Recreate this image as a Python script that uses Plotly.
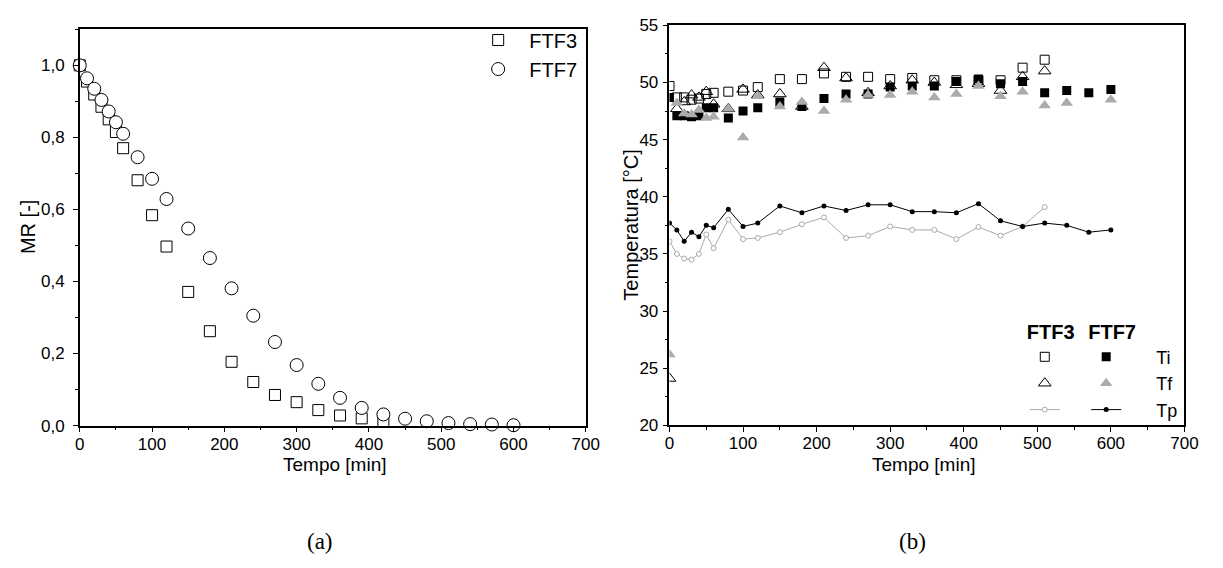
import plotly.graph_objects as go

# ---------------- data: panel (a) ----------------
t_mr3 = [0, 10, 20, 30, 40, 50, 60, 80, 100, 120, 150, 180, 210, 240, 270, 300, 330, 360, 390, 420]
mr3 = [1.0, 0.955, 0.919, 0.885, 0.85, 0.815, 0.77, 0.681, 0.584, 0.497, 0.371, 0.262, 0.177, 0.121,
       0.085, 0.065, 0.043, 0.028, 0.02, 0.012]
t_mr7 = [0, 10, 20, 30, 40, 50, 60, 80, 100, 120, 150, 180, 210, 240, 270, 300, 330, 360, 390, 420,
         450, 480, 510, 540, 570, 600]
mr7 = [1.0, 0.964, 0.935, 0.904, 0.872, 0.842, 0.81, 0.745, 0.685, 0.629, 0.547, 0.465, 0.381, 0.305,
       0.232, 0.168, 0.116, 0.077, 0.049, 0.031, 0.019, 0.012, 0.007, 0.004, 0.003, 0.001]

# ---------------- data: panel (b) ----------------
t_3 = [0, 10, 20, 30, 40, 50, 60, 80, 100, 120, 150, 180, 210, 240, 270, 300, 330, 360, 390, 420,
       450, 480, 510]
ti3 = [49.7, 48.7, 48.7, 48.5, 48.6, 49.0, 49.1, 49.2, 49.3, 49.6, 50.3, 50.3, 50.8, 50.5, 50.5, 50.3,
       50.4, 50.2, 50.2, 50.2, 50.2, 51.3, 52.0]
tf3 = [24.1, 47.7, 48.3, 48.9, 48.7, 49.2, 48.1, 47.7, 49.4, 48.9, 49.0, 47.9, 51.3, 50.4, 49.1, 49.7,
       50.2, 50.0, 49.8, 49.9, 49.3, 50.5, 51.0]
tp3 = [36.1, 35.0, 34.6, 34.5, 35.0, 36.7, 35.5, 38.0, 36.3, 36.4, 36.9, 37.6, 38.2, 36.4, 36.6, 37.4,
       37.1, 37.1, 36.3, 37.35, 36.6, 37.4, 39.1]

t_7 = [0, 10, 20, 30, 40, 50, 60, 80, 100, 120, 150, 180, 210, 240, 270, 300, 330, 360, 390, 420,
       450, 480, 510, 540, 570, 600]
ti7 = [48.7, 47.1, 47.1, 47.0, 47.1, 47.8, 47.8, 46.9, 47.5, 47.8, 48.3, 47.9, 48.6, 49.0, 49.0, 49.6,
       49.7, 49.7, 50.1, 50.3, 49.9, 50.1, 49.1, 49.3, 49.1, 49.4]
tp7 = [37.7, 37.1, 36.1, 36.9, 36.5, 37.5, 37.3, 38.9, 37.4, 37.7, 39.2, 38.6, 39.2, 38.8, 39.3, 39.3,
       38.7, 38.7, 38.6, 39.4, 37.9, 37.4, 37.7, 37.5, 36.9, 37.1]
t_tf7 = [0, 10, 20, 30, 40, 50, 60, 80, 100, 120, 150, 180, 210, 240, 270, 300, 330, 360, 390, 420,
         450, 480, 510, 540, 600]
tf7 = [26.2, 48.2, 47.3, 47.2, 47.6, 46.9, 47.0, 47.7, 45.2, 48.8, 47.9, 48.3, 47.5, 48.5, 48.9, 48.9,
       49.2, 48.7, 49.0, 49.7, 48.8, 49.2, 48.0, 48.2, 48.5]

GRAY = "#ababab"
FONT = "Liberation Sans, Arial, sans-serif"
SERIF = "Liberation Serif, Times New Roman, serif"
PAD = "&nbsp;" * 6

fig = go.Figure()

# panel (a)
fig.add_trace(go.Scatter(x=t_mr3, y=mr3, mode="markers", name="&nbsp;&nbsp;FTF3", legend="legend3",
                         xaxis="x", yaxis="y", cliponaxis=False,
                         marker=dict(symbol="square", size=11, color="white",
                                     line=dict(color="black", width=1))))
fig.add_trace(go.Scatter(x=t_mr7, y=mr7, mode="markers", name="&nbsp;&nbsp;FTF7", legend="legend3",
                         xaxis="x", yaxis="y", cliponaxis=False,
                         marker=dict(symbol="circle", size=13, color="white",
                                     line=dict(color="black", width=1))))

# panel (b) - FTF3 column (legend2)
fig.add_trace(go.Scatter(x=t_3, y=ti3, mode="markers", name=" ", legend="legend2",
                         xaxis="x2", yaxis="y2",
                         marker=dict(symbol="square-open", size=9, color="black",
                                     line=dict(width=1))))
fig.add_trace(go.Scatter(x=t_3, y=tf3, mode="markers", name=" ", legend="legend2",
                         xaxis="x2", yaxis="y2",
                         marker=dict(symbol="triangle-up-open", size=11, color="black",
                                     line=dict(width=1))))
fig.add_trace(go.Scatter(x=t_3, y=tp3, mode="lines+markers", name=" ", legend="legend2",
                         xaxis="x2", yaxis="y2",
                         line=dict(color=GRAY, width=1),
                         marker=dict(symbol="circle", size=5, color="white",
                                     line=dict(color=GRAY, width=1))))
# panel (b) - FTF7 column (legend)
fig.add_trace(go.Scatter(x=t_7, y=ti7, mode="markers", name=PAD + "Ti", legend="legend",
                         xaxis="x2", yaxis="y2",
                         marker=dict(symbol="square", size=9, color="black")))
fig.add_trace(go.Scatter(x=t_tf7, y=tf7, mode="markers", name=PAD + "Tf", legend="legend",
                         xaxis="x2", yaxis="y2",
                         marker=dict(symbol="triangle-up", size=11, color=GRAY)))
fig.add_trace(go.Scatter(x=t_7, y=tp7, mode="lines+markers", name=PAD + "Tp", legend="legend",
                         xaxis="x2", yaxis="y2",
                         line=dict(color="black", width=1),
                         marker=dict(symbol="circle", size=5, color="black")))

axis_common = dict(showline=True, linecolor="black", linewidth=1.5, mirror=True,
                   ticks="outside", ticklen=5, tickwidth=1.2, tickcolor="black",
                   showgrid=False, zeroline=False,
                   tickfont=dict(family=FONT, size=17, color="black"))
minor_common = dict(ticks="outside", ticklen=3, tickcolor="black", tickwidth=1, showgrid=False)


def label(text, x, y, angle=0, size=20, family=FONT):
    return dict(text=text, x=x, y=y, xref="paper", yref="paper", xanchor="center",
                yanchor="middle", showarrow=False, textangle=angle,
                font=dict(family=family, size=size, color="black"))


fig.update_layout(
    width=1223, height=568,
    margin=dict(l=0, r=0, t=0, b=0),
    paper_bgcolor="white", plot_bgcolor="white",
    separators=",.",
    font=dict(family=FONT, size=17, color="black"),
    xaxis=dict(domain=[0.0621, 0.4824], range=[0, 700], dtick=100,
               minor=dict(dtick=50, **minor_common), ticklabelstandoff=-3,
               anchor="y", **axis_common),
    yaxis=dict(domain=[0.2412, 0.9630], range=[0, 1.1], dtick=0.2, tickformat=".1f",
               minor=dict(dtick=0.1, **minor_common), ticklabelstandoff=5,
               anchor="x", **axis_common),
    xaxis2=dict(domain=[0.5519, 0.9796], range=[0, 700], dtick=100,
                minor=dict(dtick=50, **minor_common), ticklabelstandoff=-3,
                anchor="y2", **axis_common),
    yaxis2=dict(domain=[0.2417, 0.9701], range=[20, 55], dtick=5,
                minor=dict(dtick=2.5, **minor_common), ticklabelstandoff=1,
                anchor="x2", **axis_common),
    legend3=dict(x=0.393, y=0.979, xanchor="left", yanchor="top", bgcolor="rgba(0,0,0,0)",
                 font=dict(size=20), tracegroupgap=0),
    legend2=dict(x=0.847, y=0.447, xanchor="left", yanchor="top", bgcolor="rgba(0,0,0,0)",
                 title=dict(text="<b>FTF3</b>", font=dict(size=20)),
                 font=dict(size=18)),
    legend=dict(x=0.898, y=0.447, xanchor="left", yanchor="top", bgcolor="rgba(0,0,0,0)",
                title=dict(text="<b>FTF7</b>", font=dict(size=20)),
                font=dict(size=18)),
    annotations=[
        label("Tempo [min]", 335 / 1223, (568 - 471) / 568, size=19),
        label("Tempo [min]", 933 / 1223, (568 - 471) / 568, size=19),
        label("MR [-]", 24 / 1223, (568 - 226) / 568, angle=-90),
        label("Temperatura [°C]", 635 / 1223, (568 - 224) / 568, angle=-90),
        label("(a)", 0.262, (568 - 551) / 568, size=23, family=SERIF),
        label("(b)", 0.754, (568 - 551) / 568, size=23, family=SERIF),
    ],
)

fig.write_html("out.html")
